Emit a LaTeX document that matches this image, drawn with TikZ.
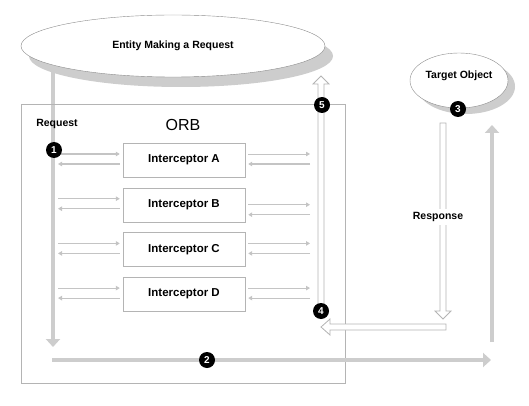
\documentclass[tikz,border=0pt]{standalone}
\usepackage{fontspec}
\setmainfont{Liberation Sans}
\usetikzlibrary{arrows.meta,positioning,shapes.geometric,shadows}
\definecolor{lineGray}{HTML}{C4C4C4}
\definecolor{railGray}{HTML}{CDCDCD}
\definecolor{boxGray}{HTML}{B4B4B4}
\definecolor{edgeGray}{HTML}{8C8C8C}

\tikzset{
  lbl/.style={font=\fontsize{10.5}{12}\selectfont\bfseries},
  interceptor/.style={draw=boxGray, minimum width=122pt, minimum height=34pt, font=\fontsize{11.5}{13}\selectfont\bfseries},
  numDot/.style={circle, fill=black, text=white, inner sep=0pt, minimum size=16pt, font=\fontsize{10}{12}\selectfont\bfseries},
  thinArrow/.style={draw=lineGray, line width=1.2pt, -{Triangle[length=4pt,width=4.5pt]}},
  railArrow/.style={draw=railGray, line width=4.5pt, -{Triangle[length=8pt,width=14pt]}},
  hollow/.style={draw=boxGray, fill=white, line width=0.8pt},
}

\begin{document}
\begin{tikzpicture}[x=1pt,y=-1pt]
\useasboundingbox (0,0) rectangle (529,406);
% request path from the entity
\coordinate (reqTop) at (53,70);
\coordinate (reqEnd) at (53,347);
\draw[railArrow] (reqTop) -- (reqEnd);
% the two objects
\node[ellipse, draw=edgeGray, fill=white, minimum width=304pt, minimum height=62pt,
  general shadow={fill=railGray, shadow xshift=8pt, shadow yshift=-10pt}, lbl] (entity) at (173,46) {Entity Making a Request};
\node[ellipse, draw=edgeGray, fill=white, minimum width=98pt, minimum height=55pt,
  general shadow={fill=railGray, shadow xshift=7pt, shadow yshift=-6pt}] (target) at (459,80.5) {};
\node[lbl] (targetText) at ([yshift=5pt]target.center) {Target Object};

% ORB frame
\draw[boxGray] (21,104) rectangle (345,383);
\node[font=\fontsize{16}{18}\selectfont] (orb) at (183,125) {ORB};
\node[lbl] (request) at (57,124) {Request};

% interceptors
\node[interceptor] (intA) at (184,160) {Interceptor A};
\node[interceptor, below=10.3pt of intA] (intB) {Interceptor B};
\node[interceptor, below=10.3pt of intB] (intC) {Interceptor C};
\node[interceptor, below=10.3pt of intC] (intD) {Interceptor D};

\coordinate (leftRail) at (58,0);
\coordinate (rightRail) at (310,0);
\foreach \n/\s/\w in {A/0/2,B/6/1.2,C/0/1.2,D/0/1.2}{
  \draw[thinArrow] ([yshift=6pt]int\n.west -| leftRail) -- ([yshift=6pt,xshift=-3pt]int\n.west);
  \draw[thinArrow] ([yshift=-4pt,xshift=-3pt]int\n.west) -- ([yshift=-4pt]int\n.west -| leftRail);
  \draw[thinArrow, line width=0.9pt] ([yshift={(6-\s)*1pt},xshift=3pt]int\n.east) -- ([yshift={(6-\s)*1pt}]int\n.east -| rightRail);
  \draw[thinArrow, line width=\w pt] ([yshift={(-4-\s)*1pt}]int\n.east -| rightRail) -- ([yshift={(-4-\s)*1pt},xshift=3pt]int\n.east);
}

% forward to the target, and back
\coordinate (sendStart) at (52,360);
\coordinate (sendEnd) at (491,360);
\draw[railArrow] (sendStart) -- (sendEnd);
\coordinate (upStart) at (492,342);
\coordinate (upEnd) at (492,125);
\draw[railArrow] (upStart) -- (upEnd);

% response (hollow arrows)
\draw[hollow] (440,123) -- (440,311) -- (435,311) -- (443,319) -- (451,311) -- (446,311) -- (446,123) -- cycle;
\draw[hollow] (446,324) -- (330,324) -- (330,319) -- (321,327) -- (330,335) -- (330,330) -- (446,330) -- cycle;
\draw[hollow] (318,312) -- (318,84) -- (313,84) -- (321,76) -- (329,84) -- (324,84) -- (324,312);
\node[lbl, fill=white, inner xsep=1pt] (response) at (438,217) {Response};

% step numbers
\node[numDot] (n1) at (54,150) {1};
\node[numDot] (n2) at (207,360) {2};
\node[numDot] (n3) at (458,109) {3};
\node[numDot] (n4) at (321,311) {4};
\node[numDot] (n5) at (322,105) {5};
\end{tikzpicture}
\end{document}
